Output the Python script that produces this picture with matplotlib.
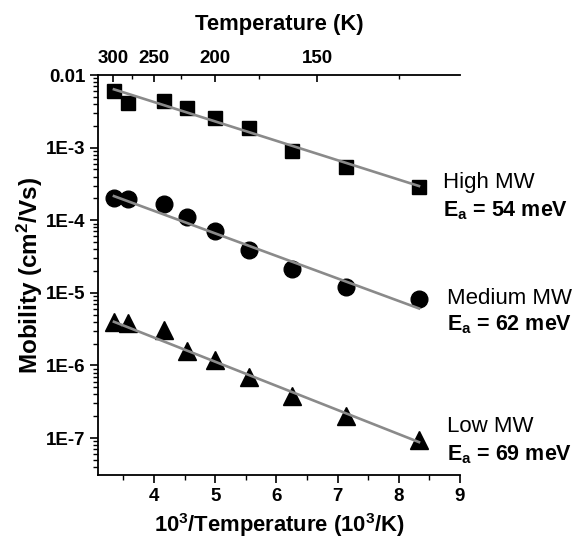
import matplotlib
matplotlib.use('Agg')
import matplotlib.pyplot as plt
from matplotlib.ticker import FixedLocator, FixedFormatter, LogLocator, NullFormatter, MultipleLocator

# 온도 (K) 와 1000/T
temperature = [300, 280, 240, 220, 200, 180, 160, 140, 120]
inv_temp = [3.346, 3.57, 4.16, 4.54, 5.0, 5.56, 6.25, 7.14, 8.33]

# 분자량별 이동도 (cm^2/Vs)
high_mw = [6.1e-3, 4.07e-3, 4.43e-3, 3.51e-3, 2.58e-3, 1.85e-3, 9.05e-4, 5.35e-4, 2.84e-4]
medium_mw = [2.0e-4, 1.94e-4, 1.66e-4, 1.10e-4, 7.1e-5, 3.89e-5, 2.11e-5, 1.19e-5, 8.15e-6]
low_mw = [4.0e-6, 3.85e-6, 3.07e-6, 1.56e-6, 1.20e-6, 6.92e-7, 3.79e-7, 1.99e-7, 9.4e-8]

# 피팅 직선 양 끝점
fit_x = [3.346, 8.33]
high_fit = [6.35e-3, 2.96e-4]
medium_fit = [2.15e-4, 6.1e-6]
low_fit = [4.0e-6, 8.8e-8]

# 축 눈금
y_ticks = [1e-7, 1e-6, 1e-5, 1e-4, 1e-3, 1e-2]
y_tick_labels = ['1E-7', '1E-6', '1E-5', '1E-4', '1E-3', '0.01']
top_ticks = [300, 250, 200, 150]
top_minor = [275, 225, 175, 125]

labels = ['High MW', 'Medium MW', 'Low MW']
ea_labels = ['54 meV', '62 meV', '69 meV']

plt.rcParams['font.family'] = ['Liberation Sans', 'DejaVu Sans']
plt.rcParams['mathtext.fontset'] = 'custom'
plt.rcParams['mathtext.rm'] = 'Liberation Sans'
plt.rcParams['mathtext.bf'] = 'Liberation Sans:bold'
plt.rcParams['mathtext.default'] = 'bf'

fig = plt.figure(figsize=(5.74, 5.46), dpi=100)
ax = fig.add_axes([0.1707, 0.130, 0.6307, 0.7326])

ax.plot(inv_temp, high_mw, 's', color='black', markersize=10, zorder=2)
ax.plot(inv_temp, medium_mw, 'o', color='black', markersize=12, zorder=2)
ax.plot(inv_temp, low_mw, '^', color='black', markersize=12.5, zorder=2)

line_color = '#8a8a8a'
ax.plot(fit_x, high_fit, '-', color=line_color, linewidth=1.9, zorder=3)
ax.plot(fit_x, medium_fit, '-', color=line_color, linewidth=1.9, zorder=3)
ax.plot(fit_x, low_fit, '-', color=line_color, linewidth=1.9, zorder=3)

ax.set_yscale('log')
ax.set_xlim(3.085, 9)
ax.set_ylim(3.1e-8, 1e-2)

ax.xaxis.set_major_locator(FixedLocator([4, 5, 6, 7, 8, 9]))
ax.xaxis.set_minor_locator(MultipleLocator(0.5))
ax.yaxis.set_major_locator(FixedLocator(y_ticks))
ax.yaxis.set_major_formatter(FixedFormatter(y_tick_labels))
ax.yaxis.set_minor_locator(LogLocator(base=10, subs=range(2, 10), numticks=20))
ax.yaxis.set_minor_formatter(NullFormatter())

for lab in ax.get_xticklabels() + ax.get_yticklabels():
    lab.set_fontweight('bold')
    lab.set_fontsize(13.5)

ax.tick_params(which='major', direction='out', length=6, width=1.2, pad=3, top=False, right=False)
ax.tick_params(which='minor', direction='out', length=3.5, width=1.0, top=False, right=False)

for s in ['left', 'bottom']:
    ax.spines[s].set_linewidth(1.3)
ax.spines['right'].set_visible(False)
ax.spines['top'].set_visible(False)

ax.set_xlabel('10$^3$/Temperature (10$^3$/K)', fontsize=15.8, fontweight='bold', labelpad=5)
ax.set_ylabel('Mobility (cm$^2$/Vs)', fontsize=17.5, fontweight='bold', labelpad=1)

# 위쪽 온도 축
top = ax.secondary_xaxis('top', functions=(lambda x: 1000.0 / x, lambda t: 1000.0 / t))
top.xaxis.set_major_locator(FixedLocator(top_ticks))
top.xaxis.set_minor_locator(FixedLocator(top_minor))
top.xaxis.set_minor_formatter(NullFormatter())
top.tick_params(which='major', direction='in', length=5, width=1.2, pad=6, labelsize=13.5)
top.tick_params(which='minor', direction='in', length=3, width=1.0)
for lab in top.get_xticklabels():
    lab.set_fontweight('bold')
top.spines['top'].set_linewidth(1.3)
top.set_xlabel('Temperature (K)', fontsize=15.8, fontweight='bold', labelpad=14)

# 시료 이름과 활성화 에너지
name_pos = [(443, 183), (447, 298), (447, 427)]
ea_pos = [(443, 211), (447, 325), (447, 455)]
for i in range(3):
    fig.text(name_pos[i][0] / 574, 1 - name_pos[i][1] / 546, labels[i],
             fontsize=16, va='center', ha='left')
    fig.text(ea_pos[i][0] / 574, 1 - ea_pos[i][1] / 546,
             'E$_a$ = ' + ea_labels[i], fontsize=15.5, fontweight='bold',
             va='center', ha='left')

fig.savefig('out.png', dpi=100)
